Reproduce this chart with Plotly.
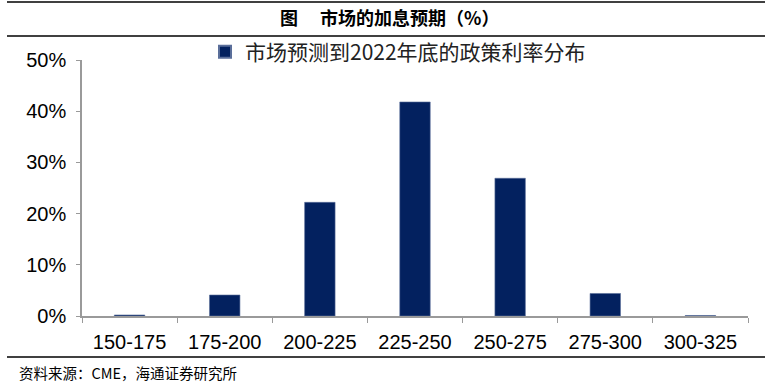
import plotly.graph_objects as go

categories = ["150-175", "175-200", "200-225", "225-250", "250-275", "275-300", "300-325"]
values = [0.2, 4.1, 22.2, 41.8, 26.9, 4.4, 0.1]
series_name = "市场预测到2022年底的政策利率分布"
title_text = "图　 市场的加息预期（%）"
source_text = "资料来源：CME，海通证券研究所"
y_ticks = [0, 10, 20, 30, 40, 50]
y_tick_labels = ["0%", "10%", "20%", "30%", "40%", "50%"]

W, H = 771, 388
L, R, T, B = 82, 748, 60, 316


def px_x(px):
    return (px - L) / (R - L)


def px_y(py):
    return (B - py) / (B - T)


fig = go.Figure()
fig.add_trace(go.Bar(
    x=categories, y=values, name=series_name,
    marker=dict(color="#03215F", line=dict(color="#5A6E9A", width=0.6)),
    width=0.32, showlegend=True,
))

shapes = []
for py, w in [(2, 1.6), (36, 1.4), (357, 1.4)]:
    shapes.append(dict(type="line", xref="paper", yref="paper",
                       x0=px_x(7), x1=px_x(765), y0=px_y(py), y1=px_y(py),
                       line=dict(color="black", width=w)))

fig.update_layout(
    width=W, height=H, autosize=False,
    margin=dict(l=L, r=W - R, t=T, b=H - B, pad=0),
    plot_bgcolor="white", paper_bgcolor="white",
    font=dict(family="Arial, Liberation Sans, Noto Sans CJK SC", color="black"),
    shapes=shapes,
    legend=dict(orientation="h", x=px_x(398), xanchor="center", y=px_y(52), yanchor="middle",
                font=dict(size=21, family="Noto Sans CJK SC", color="#222222"),
                itemsizing="constant", itemwidth=30, bgcolor="rgba(0,0,0,0)"),
    annotations=[
        dict(text=title_text, xref="paper", yref="paper", x=px_x(389), y=px_y(17),
             xanchor="center", yanchor="middle", showarrow=False,
             font=dict(size=18, family="Noto Sans CJK SC", color="black", weight="bold")),
        dict(text=source_text, xref="paper", yref="paper", x=px_x(17), y=px_y(372),
             xanchor="left", yanchor="middle", showarrow=False,
             font=dict(size=14.5, family="Noto Sans CJK SC", color="black")),
    ],
)

fig.update_xaxes(
    type="category", showline=True, linecolor="#9A9A9A", linewidth=1.5,
    ticks="outside", tickson="boundaries", ticklen=5, tickcolor="#9A9A9A", tickwidth=1,
    tickfont=dict(size=20, family="Arial, Liberation Sans", color="black"),
    showgrid=False, zeroline=False, ticklabelstandoff=7,
)
fig.update_yaxes(
    range=[0, 50], tickmode="array", tickvals=y_ticks, ticktext=y_tick_labels,
    showline=True, linecolor="#9A9A9A", linewidth=1.5,
    ticks="outside", ticklen=4, tickcolor="#9A9A9A",
    tickfont=dict(size=20, family="Arial, Liberation Sans", color="black"),
    showgrid=False, zeroline=False, ticklabelstandoff=6,
)

fig.write_html("out.html", config={"displayModeBar": False},
               post_script="document.body.style.margin='0';")
